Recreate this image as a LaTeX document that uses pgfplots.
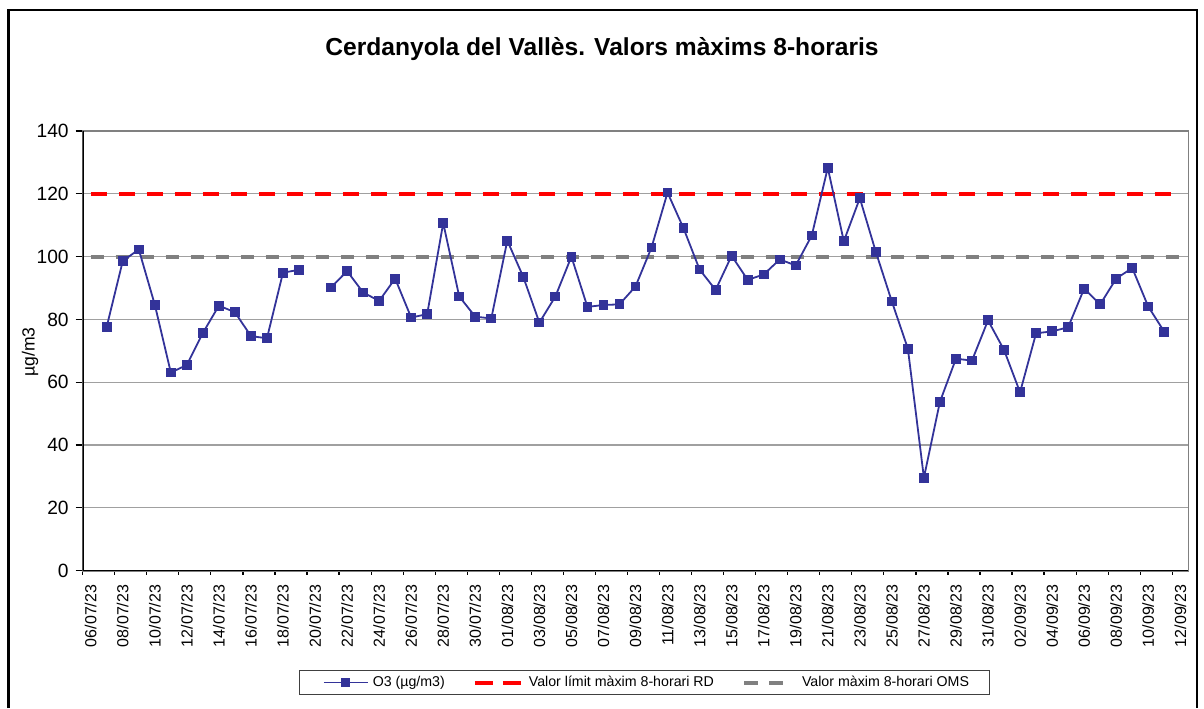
\documentclass[border=0pt]{standalone}
\usepackage{fontspec}
\setmainfont{Liberation Sans}
\usepackage{pgfplots}
\usepackage{pgfplotstable}
\pgfplotsset{compat=1.18}
\definecolor{othree}{HTML}{333399}
\definecolor{gridc}{HTML}{A0A0A0}
\definecolor{refgrey}{HTML}{808080}
\pgfplotstableread{
cat y
0 nan
1 77.7
2 98.6
3 102.3
4 84.7
5 63.1
6 65.5
7 75.7
8 84.4
9 82.3
10 74.7
11 74.0
12 94.9
13 95.8
14 nan
15 90.2
16 95.4
17 88.6
18 85.9
19 93.0
20 80.6
21 81.7
22 110.7
23 87.3
24 80.9
25 80.3
26 105.1
27 93.5
28 79.0
29 87.3
30 100.0
31 84.0
32 84.6
33 84.8
34 90.5
35 102.9
36 120.4
37 109.0
38 95.9
39 89.4
40 100.3
41 92.6
42 94.3
43 99.1
44 97.2
45 106.7
46 128.3
47 104.9
48 118.6
49 101.5
50 85.7
51 70.7
52 29.6
53 53.8
54 67.5
55 66.9
56 79.7
57 70.3
58 56.8
59 75.6
60 76.2
61 77.5
62 89.8
63 84.8
64 93.0
65 96.4
66 84.1
67 76.1
68 nan
}\othreetab
\pgfplotstableread{
cat y
0 120
68 120
}\rdtab
\pgfplotstableread{
cat y
0 100
68 100
}\omstab
\begin{document}
\begin{tikzpicture}
\useasboundingbox (0,0) rectangle (602pt,354pt);
\draw[black, line width=1.3pt] (4.25pt,0pt) -- (4.25pt,349pt) -- (598.5pt,349pt) -- (598.5pt,0pt);
\node[anchor=base, font=\bfseries\fontsize{12.3}{14}\selectfont] at (301pt,326pt) {Cerdanyola del Vallès. Valors màxims 8-horaris};
\begin{axis}[
  at={(41.35pt,68.65pt)}, anchor=south west,
  scale only axis, width=552.8pt, height=219.85pt,
  xmin=-0.5, xmax=68.5, ymin=0, ymax=140,
  unbounded coords=jump,
  ytick={0,20,...,140},
  xtick={0,2,...,68},
  xticklabels={06/07/23,08/07/23,10/07/23,12/07/23,14/07/23,16/07/23,18/07/23,20/07/23,22/07/23,24/07/23,26/07/23,28/07/23,30/07/23,01/08/23,03/08/23,05/08/23,07/08/23,09/08/23,11/08/23,13/08/23,15/08/23,17/08/23,19/08/23,21/08/23,23/08/23,25/08/23,27/08/23,29/08/23,31/08/23,02/09/23,04/09/23,06/09/23,08/09/23,10/09/23,12/09/23},
  minor xtick={-0.5,1.5,...,67.5},
  tick pos=left, tick align=outside,
  major tick length=3.5pt, minor tick length=2pt,
  major x tick style={draw=none},
  every tick/.style={black, line width=0.6pt},
  minor x tick style={black, line width=0.6pt},
  ymajorgrids, grid style={gridc, line width=0.6pt},
  axis line style={refgrey, line width=0.8pt},
  /pgf/number format/assume math mode=true,
  yticklabel style={font=\fontsize{9.6}{11}\selectfont},
  xticklabel style={rotate=90, anchor=east, font=\fontsize{8}{9.6}\selectfont},
  ylabel={µg/m3},
  ylabel style={at={(axis description cs:-0.0477,0.497)}, anchor=center, font=\fontsize{8.8}{10}\selectfont},
  legend style={at={(0.5081,-0.2543)}, anchor=center, legend columns=3, draw=black!75, line width=0.5pt,
    font=\fontsize{7.1}{8.5}\selectfont, inner xsep=8pt, inner ysep=0.5pt,
    /tikz/every even column/.append style={column sep=0pt}},
  legend cell align=left,
]
\addlegendimage{legend image code/.code={
  \path[draw=none, fill=none] (0pt,0pt) -- (26pt,0pt);
  \draw[othree, line width=0.9pt] (4pt,0pt) -- (26pt,0pt);
  \fill[othree] (13pt,-2pt) rectangle (17pt,2pt);}}
\addlegendentry{O3 (µg/m3)}
\addlegendimage{legend image code/.code={
  \path[draw=none, fill=none] (0pt,0pt) -- (38pt,0pt);
  \draw[red, line width=2pt] (13pt,0pt) -- (22pt,0pt);
  \draw[red, line width=2pt] (27pt,0pt) -- (36pt,0pt);}}
\addlegendentry{Valor límit màxim 8-horari RD}
\addlegendimage{legend image code/.code={
  \path[draw=none, fill=none] (0pt,0pt) -- (40pt,0pt);
  \draw[refgrey, line width=2pt] (13pt,0pt) -- (20pt,0pt);
  \draw[refgrey, line width=2pt] (25.5pt,0pt) -- (32.5pt,0pt);}}
\addlegendentry{Valor màxim 8-horari OMS}
\addplot[forget plot, refgrey, line width=2pt, dash pattern=on 6.5pt off 6pt] table[x=cat, y=y] {\omstab};
\addplot[forget plot, red, line width=2.2pt, dash pattern=on 8pt off 6pt] table[x=cat, y=y] {\rdtab};
\addplot[forget plot, othree, line width=0.9pt, mark=square*, mark size=2pt, mark options={fill=othree, draw=othree, solid}] table[x=cat, y=y] {\othreetab};
\draw[black, line width=1pt] (rel axis cs:0,1) -- (rel axis cs:0,0) -- (rel axis cs:1,0);
\end{axis}
\end{tikzpicture}
\end{document}
